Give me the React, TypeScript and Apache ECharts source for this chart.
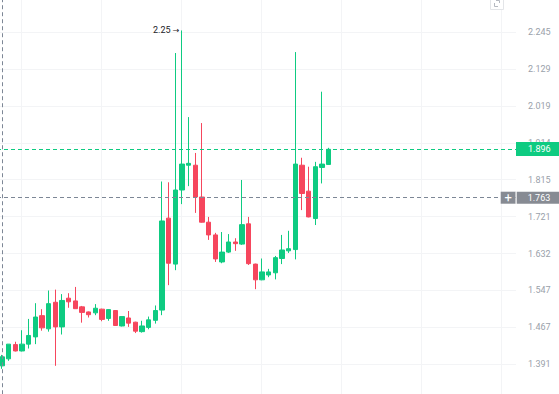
import { useEffect, useRef } from 'react';
import * as echarts from 'echarts';

// OHLC values (one candle per period)
const opens = [1.388, 1.402, 1.431, 1.418, 1.432, 1.447, 1.492, 1.464, 1.521, 1.468, 1.530, 1.524, 1.511, 1.500, 1.498, 1.506, 1.486, 1.503, 1.470, 1.487, 1.478, 1.458, 1.467, 1.482, 1.504, 1.717, 1.607, 1.788, 1.853, 1.853, 1.770, 1.707, 1.676, 1.612, 1.635, 1.659, 1.654, 1.703, 1.607, 1.571, 1.582, 1.587, 1.620, 1.638, 1.641, 1.853, 1.785, 1.716, 1.847, 1.855];
const closes = [1.406, 1.432, 1.418, 1.432, 1.450, 1.489, 1.466, 1.518, 1.468, 1.525, 1.522, 1.507, 1.499, 1.494, 1.508, 1.484, 1.505, 1.471, 1.490, 1.476, 1.459, 1.470, 1.483, 1.503, 1.710, 1.609, 1.788, 1.856, 1.858, 1.770, 1.707, 1.676, 1.619, 1.635, 1.659, 1.655, 1.701, 1.608, 1.571, 1.589, 1.589, 1.622, 1.640, 1.643, 1.856, 1.779, 1.720, 1.849, 1.856, 1.896];
const lows = [1.382, 1.398, 1.417, 1.417, 1.423, 1.432, 1.460, 1.458, 1.388, 1.452, 1.509, 1.507, 1.477, 1.488, 1.493, 1.480, 1.481, 1.470, 1.469, 1.468, 1.455, 1.456, 1.463, 1.475, 1.493, 1.559, 1.593, 1.752, 1.798, 1.730, 1.706, 1.664, 1.612, 1.609, 1.633, 1.638, 1.652, 1.605, 1.550, 1.570, 1.577, 1.572, 1.607, 1.633, 1.618, 1.737, 1.719, 1.700, 1.805, 1.855];
const highs = [1.410, 1.432, 1.437, 1.461, 1.485, 1.519, 1.506, 1.547, 1.549, 1.539, 1.541, 1.555, 1.513, 1.501, 1.517, 1.507, 1.506, 1.504, 1.490, 1.502, 1.479, 1.481, 1.490, 1.514, 1.810, 1.808, 2.178, 2.250, 1.986, 1.886, 1.969, 1.720, 1.681, 1.683, 1.678, 1.668, 1.814, 1.720, 1.608, 1.620, 1.596, 1.626, 1.676, 1.686, 2.181, 1.873, 1.849, 1.862, 2.060, 1.900];

// Right price-axis tick labels (log-spaced)
const tickLabels = ['1.391', '1.467', '1.547', '1.632', '1.721', '1.815', '1.914', '2.019', '2.129', '2.245'];

const lastPrice = 1.896;
const crosshairPrice = 1.763;
const crosshairIndex = 0;
const peakIndex = 27;
const peakText = '2.25';

const UP = '#0ecb81';
const DOWN = '#f6465d';
const CROSS = '#7d8796';
const FONT = 'Roboto, sans-serif';

// The chart canvas is larger than the window and shifted, so that the plot
// area can start slightly outside the visible page (as in the reference).
const OFF_X = 60;
const OFF_Y = 10;
const CW = 620;
const CH = 414;

export default function App() {
  const ref = useRef<HTMLDivElement>(null);

  useEffect(() => {
    const chart = echarts.init(ref.current!, null, { renderer: 'svg' });

    const lnLo = Math.log(parseFloat(tickLabels[0]));
    const lnHi = Math.log(parseFloat(tickLabels[tickLabels.length - 1]));
    const step = (lnHi - lnLo) / (tickLabels.length - 1);
    const yMin = lnLo - step;
    const yMax = lnHi + step;

    const xStep = 12; // one vertical grid line every 12 candles
    const xMin = -9.15;
    const xMax = 77.1;

    const data = opens.map((o, i) => [
      i,
      Math.log(o),
      Math.log(closes[i]),
      Math.log(lows[i]),
      Math.log(highs[i]),
    ]);

    chart.setOption({
      animation: false,
      backgroundColor: '#ffffff',
      grid: { left: 1, right: 44, top: 5.07, bottom: 2.77 },
      xAxis: {
        type: 'value',
        min: xMin,
        max: xMax,
        interval: xStep,
        axisLine: { show: false },
        axisTick: { show: false },
        axisLabel: { show: false },
        splitLine: { show: true, showMinLine: false, showMaxLine: false, lineStyle: { color: '#f3f4f6', width: 1 } },
      },
      yAxis: {
        type: 'value',
        position: 'right',
        min: yMin,
        max: yMax,
        interval: step,
        axisLine: { show: false },
        axisTick: { show: false },
        axisLabel: {
          show: true,
          margin: 12,
          showMinLabel: false,
          showMaxLabel: false,
          color: '#9aa1aa',
          fontSize: 9,
          fontFamily: FONT,
          formatter: (v: number) => {
            const k = Math.round((v - yMin) / step) - 1;
            return tickLabels[k] ?? '';
          },
        },
        splitLine: { show: true, showMinLine: false, showMaxLine: false, lineStyle: { color: '#f3f4f6', width: 1 } },
      },
      graphic: [
        {
          type: 'rect',
          shape: { x: 490.5 + OFF_X, y: -4.5 + OFF_Y, width: 13, height: 14 },
          style: { fill: '#fff', stroke: '#e3e5e8', lineWidth: 1 },
          z: 10,
        },
        {
          type: 'polyline',
          shape: { points: [[494.5 + OFF_X, 3 + OFF_Y], [494.5 + OFF_X, 6.5 + OFF_Y], [498 + OFF_X, 6.5 + OFF_Y]] },
          style: { stroke: '#b5b9c0', lineWidth: 1, fill: 'none' },
          z: 11,
        },
        {
          type: 'polyline',
          shape: { points: [[496 + OFF_X, 0.5 + OFF_Y], [499.5 + OFF_X, 0.5 + OFF_Y], [499.5 + OFF_X, 3 + OFF_Y]] },
          style: { stroke: '#b5b9c0', lineWidth: 1, fill: 'none' },
          z: 11,
        },
      ],
      series: [
        {
          // crosshair lines (helper series without marks of its own)
          type: 'line',
          data: [],
          silent: true,
          markLine: {
            silent: true,
            symbol: ['none', 'none'],
            animation: false,
            lineStyle: { color: CROSS, type: [4, 3], width: 1 },
            data: [
              {
                yAxis: Math.log(crosshairPrice),
                label: {
                  show: true,
                  position: 'end',
                  distance: -15.3,
                  formatter: '{p|+}{g|}{v|' + crosshairPrice.toFixed(3) + '}',
                  rich: {
                    p: {
                      backgroundColor: '#878b93',
                      color: '#ffffff',
                      width: 15,
                      height: 12,
                      lineHeight: 12,
                      align: 'center',
                      fontSize: 13,
                      fontFamily: FONT,
                    },
                    g: { backgroundColor: '#ffffff', width: 1, height: 12 },
                    v: {
                      backgroundColor: '#878b93',
                      color: '#ffffff',
                      height: 12,
                      lineHeight: 12,
                      padding: [0, 20, 0, 11],
                      fontSize: 9,
                      fontFamily: FONT,
                    },
                  },
                },
              },
              {
                xAxis: crosshairIndex,
                label: { show: false },
              },
            ],
          },
        },
        {
          type: 'candlestick',
          data,
          encode: { x: 0, y: [1, 2, 3, 4] },
          barWidth: 5,
          itemStyle: {
            color: UP,
            color0: DOWN,
            borderColor: UP,
            borderColor0: DOWN,
            borderWidth: 1,
          },
          markLine: {
            silent: true,
            symbol: ['none', 'none'],
            animation: false,
            lineStyle: { color: UP, type: [4, 3], width: 1 },
            label: {
              show: true,
              position: 'end',
              distance: 0,
              formatter: lastPrice.toFixed(3),
              color: '#ffffff',
              backgroundColor: UP,
              fontSize: 9,
              fontFamily: FONT,
              lineHeight: 10,
              padding: [2, 20, 2, 12],
            },
            data: [{ yAxis: Math.log(lastPrice) }],
          },
          markPoint: {
            silent: true,
            animation: false,
            symbol: 'circle',
            symbolSize: 1,
            itemStyle: { color: 'rgba(0,0,0,0)' },
            data: [
              {
                coord: [peakIndex, Math.log(highs[peakIndex])],
                label: {
                  show: true,
                  position: 'left',
                  distance: 2,
                  formatter: peakText + ' {a|\u2192}',
                  color: '#1e2329',
                  fontSize: 9,
                  fontFamily: FONT,
                  rich: {
                    a: { fontFamily: '"DejaVu Sans"', fontSize: 8, color: '#1e2329' },
                  },
                },
              },
            ],
          },
        },
      ],
    });

    return () => chart.dispose();
  }, []);

  return (
    <div
      ref={ref}
      style={{ position: 'fixed', left: -OFF_X, top: -OFF_Y, width: CW, height: CH, background: '#fff' }}
    />
  );
}
